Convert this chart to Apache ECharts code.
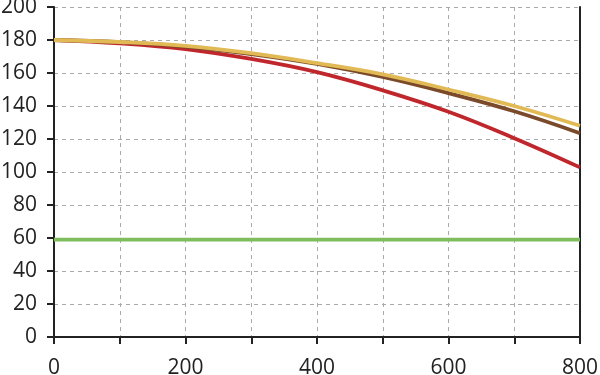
<!DOCTYPE html>
<html>
<head>
<meta charset="utf-8">
<script src="https://cdn.jsdelivr.net/npm/echarts@6/dist/echarts.min.js"></script>
<style>
html,body{margin:0;padding:0;background:#fff;}
#chart{width:600px;height:375px;}
</style>
</head>
<body>
<div id="chart"></div>
<script>
var xValues = [0, 100, 200, 300, 400, 500, 600, 700, 800];
var yellowValues = [180, 178.8, 176.5, 172, 166, 159.2, 150, 140, 128];
var brownValues = [180, 178.7, 176, 171.5, 165.5, 157.6, 147.8, 136.8, 123.5];
var redValues = [180, 178, 174.5, 168.5, 160.5, 149.5, 136.5, 120.5, 102.8];
var greenValues = [59, 59, 59, 59, 59, 59, 59, 59, 59];

function pairs(ys) { return xValues.map(function (x, i) { return [x, ys[i]]; }); }

var chart = echarts.init(document.getElementById('chart'), null, {renderer: 'canvas'});
var labelFont = {fontFamily: 'Open Sans', fontSize: 21, color: '#222'};
var gridLine = {show: true, lineStyle: {color: '#aaa', width: 1, type: [4, 4]}};
function lineSeries(data, color) {
  return {type: 'line', data: pairs(data), smooth: 0.4, showSymbol: false, symbol: 'none',
    lineStyle: {color: color, width: 3.8}, animation: false};
}
chart.setOption({
  animation: false,
  grid: {left: 54, right: 20, top: 7, bottom: 38, containLabel: false, outerBoundsMode: 'none'},
  xAxis: {
    type: 'value', min: 0, max: 800, interval: 100,
    axisLine: {show: true, lineStyle: {color: '#222', width: 2}},
    axisTick: {show: true, inside: false, length: 7, lineStyle: {color: '#222', width: 2}},
    axisLabel: Object.assign({margin: 21, formatter: function (v) { return v % 200 === 0 ? String(v) : ''; }}, labelFont),
    splitLine: gridLine
  },
  yAxis: [{
    type: 'value', min: 0, max: 200, interval: 20,
    axisLine: {show: true, lineStyle: {color: '#222', width: 2}},
    axisTick: {show: true, inside: false, length: 7, lineStyle: {color: '#222', width: 2}},
    axisLabel: Object.assign({margin: 17}, labelFont),
    splitLine: gridLine
  }, {
    type: 'value', min: 0, max: 200, interval: 20, position: 'right',
    axisLine: {show: true, lineStyle: {color: '#222', width: 2}},
    axisTick: {show: false}, axisLabel: {show: false}, splitLine: {show: false}
  }],
  series: [
    lineSeries(greenValues, '#7fbd5c'),
    lineSeries(redValues, '#c0272d'),
    lineSeries(brownValues, '#7b4a2b'),
    lineSeries(yellowValues, '#e2ba55')
  ]
});
</script>
</body>
</html>
